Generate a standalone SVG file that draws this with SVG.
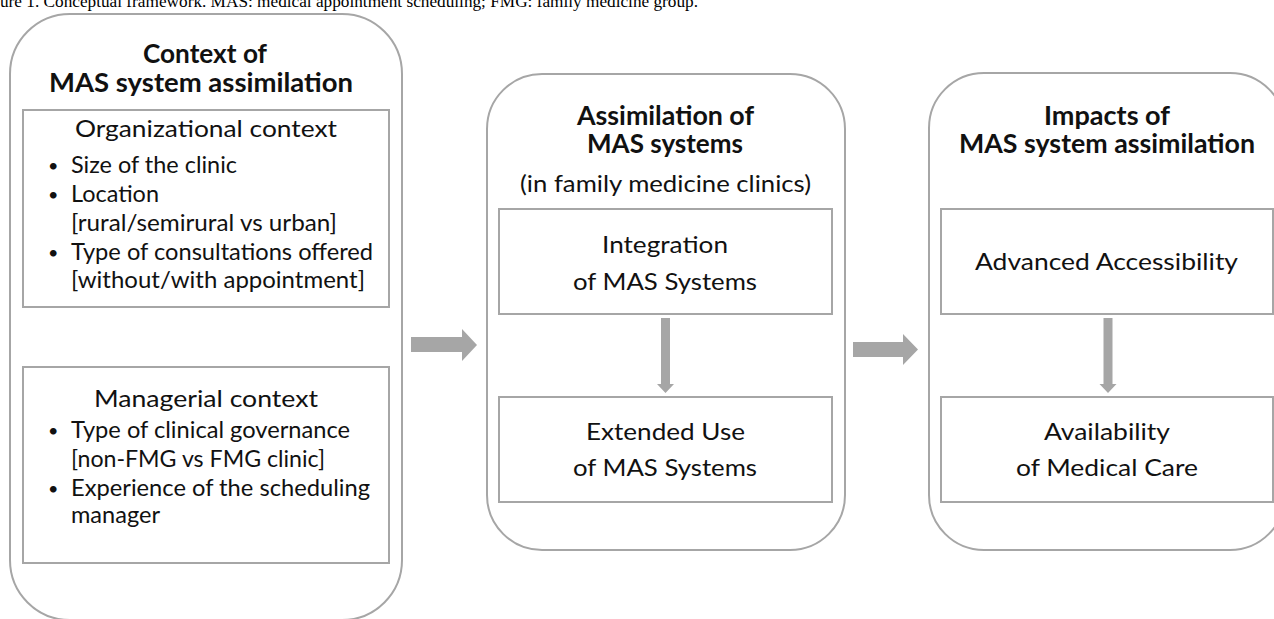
<svg xmlns="http://www.w3.org/2000/svg" width="1274" height="619" viewBox="0 0 1274 619">
<style>
.panel{fill:#fff;stroke:#a6a6a6;stroke-width:2}
.box{fill:#fff;stroke:#a6a6a6;stroke-width:2}
.arr{fill:#a6a6a6}
.t{font-family:Lato,"Open Sans",sans-serif;font-size:24px;fill:#111}
.b{font-family:Lato,"Open Sans",sans-serif;font-size:18px;fill:#111}
.h{font-family:Lato,"Open Sans",sans-serif;font-size:27px;font-weight:bold;fill:#111}
.cap{font-family:"Liberation Serif",serif;font-size:16px;fill:#000}
</style>
<rect width="1274" height="619" fill="#fff"/>
<text class="cap" x="0" y="7" textLength="698" lengthAdjust="spacingAndGlyphs">ure 1.  Conceptual framework. MAS: medical appointment scheduling; FMG: family medicine group.</text>

<g id="context">
<rect class="panel" x="10" y="14" width="392" height="606" rx="60"/>
<text class="h" x="143" y="63" textLength="124" lengthAdjust="spacingAndGlyphs">Context of</text>
<text class="h" x="49" y="92" textLength="304" lengthAdjust="spacingAndGlyphs">MAS system assimilation</text>
</g>
<g id="organizational">
<rect class="box" x="23" y="110" width="366" height="197"/>
<text class="t" x="75" y="137" textLength="262" lengthAdjust="spacingAndGlyphs">Organizational context</text>
<text class="b" x="48" y="172">•</text>
<text class="t" x="71" y="173" textLength="166" lengthAdjust="spacingAndGlyphs">Size of the clinic</text>
<text class="b" x="48" y="201">•</text>
<text class="t" x="71" y="202" textLength="88" lengthAdjust="spacingAndGlyphs">Location</text>
<text class="t" x="71" y="231" textLength="266" lengthAdjust="spacingAndGlyphs">[rural/semirural vs urban]</text>
<text class="b" x="48" y="259">•</text>
<text class="t" x="71" y="260" textLength="302" lengthAdjust="spacingAndGlyphs">Type of consultations offered</text>
<text class="t" x="71" y="288" textLength="294" lengthAdjust="spacingAndGlyphs">[without/with appointment]</text>
</g>
<g id="managerial">
<rect class="box" x="23" y="367" width="366" height="196"/>
<text class="t" x="94" y="407" textLength="224" lengthAdjust="spacingAndGlyphs">Managerial context</text>
<text class="b" x="48" y="437">•</text>
<text class="t" x="71" y="438" textLength="279" lengthAdjust="spacingAndGlyphs">Type of clinical governance</text>
<text class="t" x="71" y="467" textLength="254" lengthAdjust="spacingAndGlyphs">[non-FMG vs FMG clinic]</text>
<text class="b" x="48" y="495">•</text>
<text class="t" x="71" y="496" textLength="299" lengthAdjust="spacingAndGlyphs">Experience of the scheduling</text>
<text class="t" x="71" y="523" textLength="89" lengthAdjust="spacingAndGlyphs">manager</text>
</g>

<g id="assimilation">
<rect class="panel" x="487" y="74" width="358" height="476" rx="55"/>
<text class="h" x="577" y="125" textLength="177" lengthAdjust="spacingAndGlyphs">Assimilation of</text>
<text class="h" x="587" y="153" textLength="156" lengthAdjust="spacingAndGlyphs">MAS systems</text>
<text class="t" x="520" y="192" textLength="291" lengthAdjust="spacingAndGlyphs">(in family medicine clinics)</text>
</g>
<g id="integration">
<rect class="box" x="499" y="209" width="333" height="105"/>
<text class="t" x="602" y="253" textLength="126" lengthAdjust="spacingAndGlyphs">Integration</text>
<text class="t" x="573" y="290" textLength="184" lengthAdjust="spacingAndGlyphs">of MAS Systems</text>
</g>
<g id="extended">
<rect class="box" x="499" y="397" width="333" height="105"/>
<text class="t" x="586" y="440" textLength="159" lengthAdjust="spacingAndGlyphs">Extended Use</text>
<text class="t" x="573" y="476" textLength="184" lengthAdjust="spacingAndGlyphs">of MAS Systems</text>
</g>

<g id="impacts">
<rect class="panel" x="929" y="73" width="356" height="477" rx="55"/>
<text class="h" x="1044" y="125" textLength="126" lengthAdjust="spacingAndGlyphs">Impacts of</text>
<text class="h" x="959" y="153" textLength="296" lengthAdjust="spacingAndGlyphs">MAS system assimilation</text>
</g>
<g id="accessibility">
<rect class="box" x="941" y="209" width="332" height="105"/>
<text class="t" x="975" y="270" textLength="263" lengthAdjust="spacingAndGlyphs">Advanced Accessibility</text>
</g>
<g id="availability">
<rect class="box" x="941" y="397" width="332" height="105"/>
<text class="t" x="1044" y="440" textLength="126" lengthAdjust="spacingAndGlyphs">Availability</text>
<text class="t" x="1016" y="476" textLength="182" lengthAdjust="spacingAndGlyphs">of Medical Care</text>
</g>

<g id="connectors">
<polygon class="arr" points="411,337 462,337 462,329 477,345 462,361 462,352 411,352"/>
<polygon class="arr" points="853,342 903,342 903,334 918,349.5 903,365 903,357 853,357"/>
<polygon class="arr" points="661,318 670,318 670,384 674,384 665.5,393 657,384 661,384"/>
<polygon class="arr" points="1103.5,318 1112.5,318 1112.5,384 1116.5,384 1108,393 1099.5,384 1103.5,384"/>
</g>
</svg>
